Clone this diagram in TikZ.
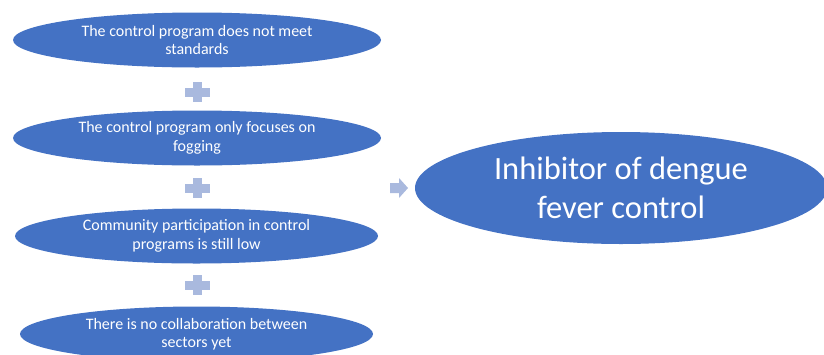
\documentclass[tikz,border=0pt]{standalone}
\usepackage{fontspec}
\setmainfont{Carlito}
\usetikzlibrary{shapes.geometric}
\definecolor{ellblue}{HTML}{4472C4}
\definecolor{lightblue}{HTML}{A9B9DE}
\begin{document}
\begin{tikzpicture}[x=1pt,y=-1pt,
  cause/.style={ellipse,fill=ellblue,text=white,inner sep=0pt,align=center,
    minimum width=368pt,minimum height=55pt,font=\fontsize{16}{18.5}\selectfont},
  effect/.style={ellipse,fill=ellblue,text=white,inner sep=0pt,align=center,
    minimum width=412pt,minimum height=112pt,font=\fontsize{32.5}{39}\selectfont},
  plusbar/.style={fill=lightblue},
  arrowfill/.style={fill=lightblue}]
\useasboundingbox (0,0) rectangle (824,354);
\node[cause] (c1) at (197,40) {The control program does not meet\\standards};
\node[cause] (c2) at (197,138) {The control program only focuses on\\fogging};
\node[cause,minimum width=363pt] (c3) at (196.5,236) {Community participation in control\\programs is still low};
\node[cause,minimum width=353pt] (c4) at (196.5,334) {There is no collaboration between\\sectors yet};
\node[effect] (e) at (621,188) {Inhibitor of dengue\\fever control};
\foreach \n/\y in {p1/92,p2/188,p3/285}{
  \coordinate (\n) at (197,\y);
  \fill[plusbar] ([shift={(-12.5,-4.5)}]\n) rectangle ([shift={(12.5,4.5)}]\n);
  \fill[plusbar] ([shift={(-4.5,-10)}]\n) rectangle ([shift={(4.5,10)}]\n);
}
\coordinate (arr) at (399,188);
\fill[arrowfill] ([shift={(-9,-5)}]arr) -- ([shift={(0,-5)}]arr) -- ([shift={(0,-10)}]arr)
  -- ([shift={(9,0)}]arr) -- ([shift={(0,10)}]arr) -- ([shift={(0,5)}]arr)
  -- ([shift={(-9,5)}]arr) -- cycle;
\end{tikzpicture}
\end{document}
